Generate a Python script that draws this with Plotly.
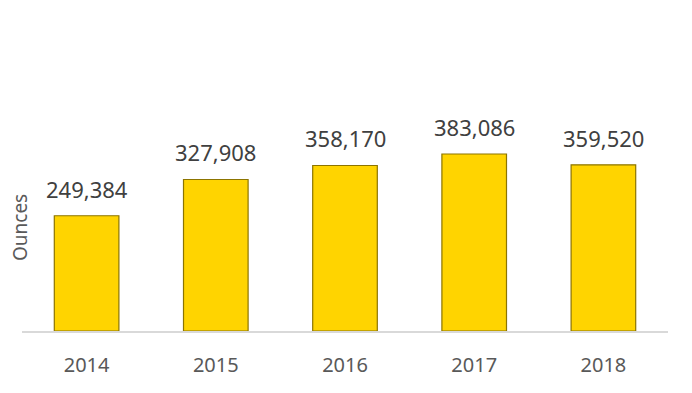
import plotly.graph_objects as go

years = ["2014", "2015", "2016", "2017", "2018"]
ounces = [249384, 327908, 358170, 383086, 359520]
labels = [f"{v:,}" for v in ounces]

fig = go.Figure()
fig.add_trace(go.Bar(
    x=years, y=ounces, width=0.5,
    marker=dict(color="#FFD400", line=dict(color="#8C7400", width=1.2)),
    hoverinfo="skip",
))

annotations = [
    dict(x=i, y=v, text=lab, showarrow=False, xref="x", yref="y",
         yanchor="bottom", yshift=10,
         font=dict(family="Noto Sans", size=22, color="#404040"))
    for i, (v, lab) in enumerate(zip(ounces, labels))
]
annotations.append(dict(
    x=-0.003, y=0.5, xref="paper", yref="paper", text="Ounces",
    textangle=-90, showarrow=False, xanchor="center", yanchor="middle",
    font=dict(family="Noto Sans", size=19, color="#595959")))

fig.update_layout(
    width=684, height=385,
    margin=dict(l=14, r=24, t=117, b=62, autoexpand=False),
    paper_bgcolor="white", plot_bgcolor="white",
    showlegend=False,
    annotations=annotations,
    xaxis=dict(type="category", showline=True, linecolor="#D9D9D9", linewidth=2,
               ticks="", ticklabelstandoff=15, automargin=False,
               tickfont=dict(family="Noto Sans", size=20, color="#595959")),
    yaxis=dict(range=[0, 445800], showgrid=False, showticklabels=False,
               zeroline=False, showline=False, automargin=False),
)

fig.write_html("out.html")
